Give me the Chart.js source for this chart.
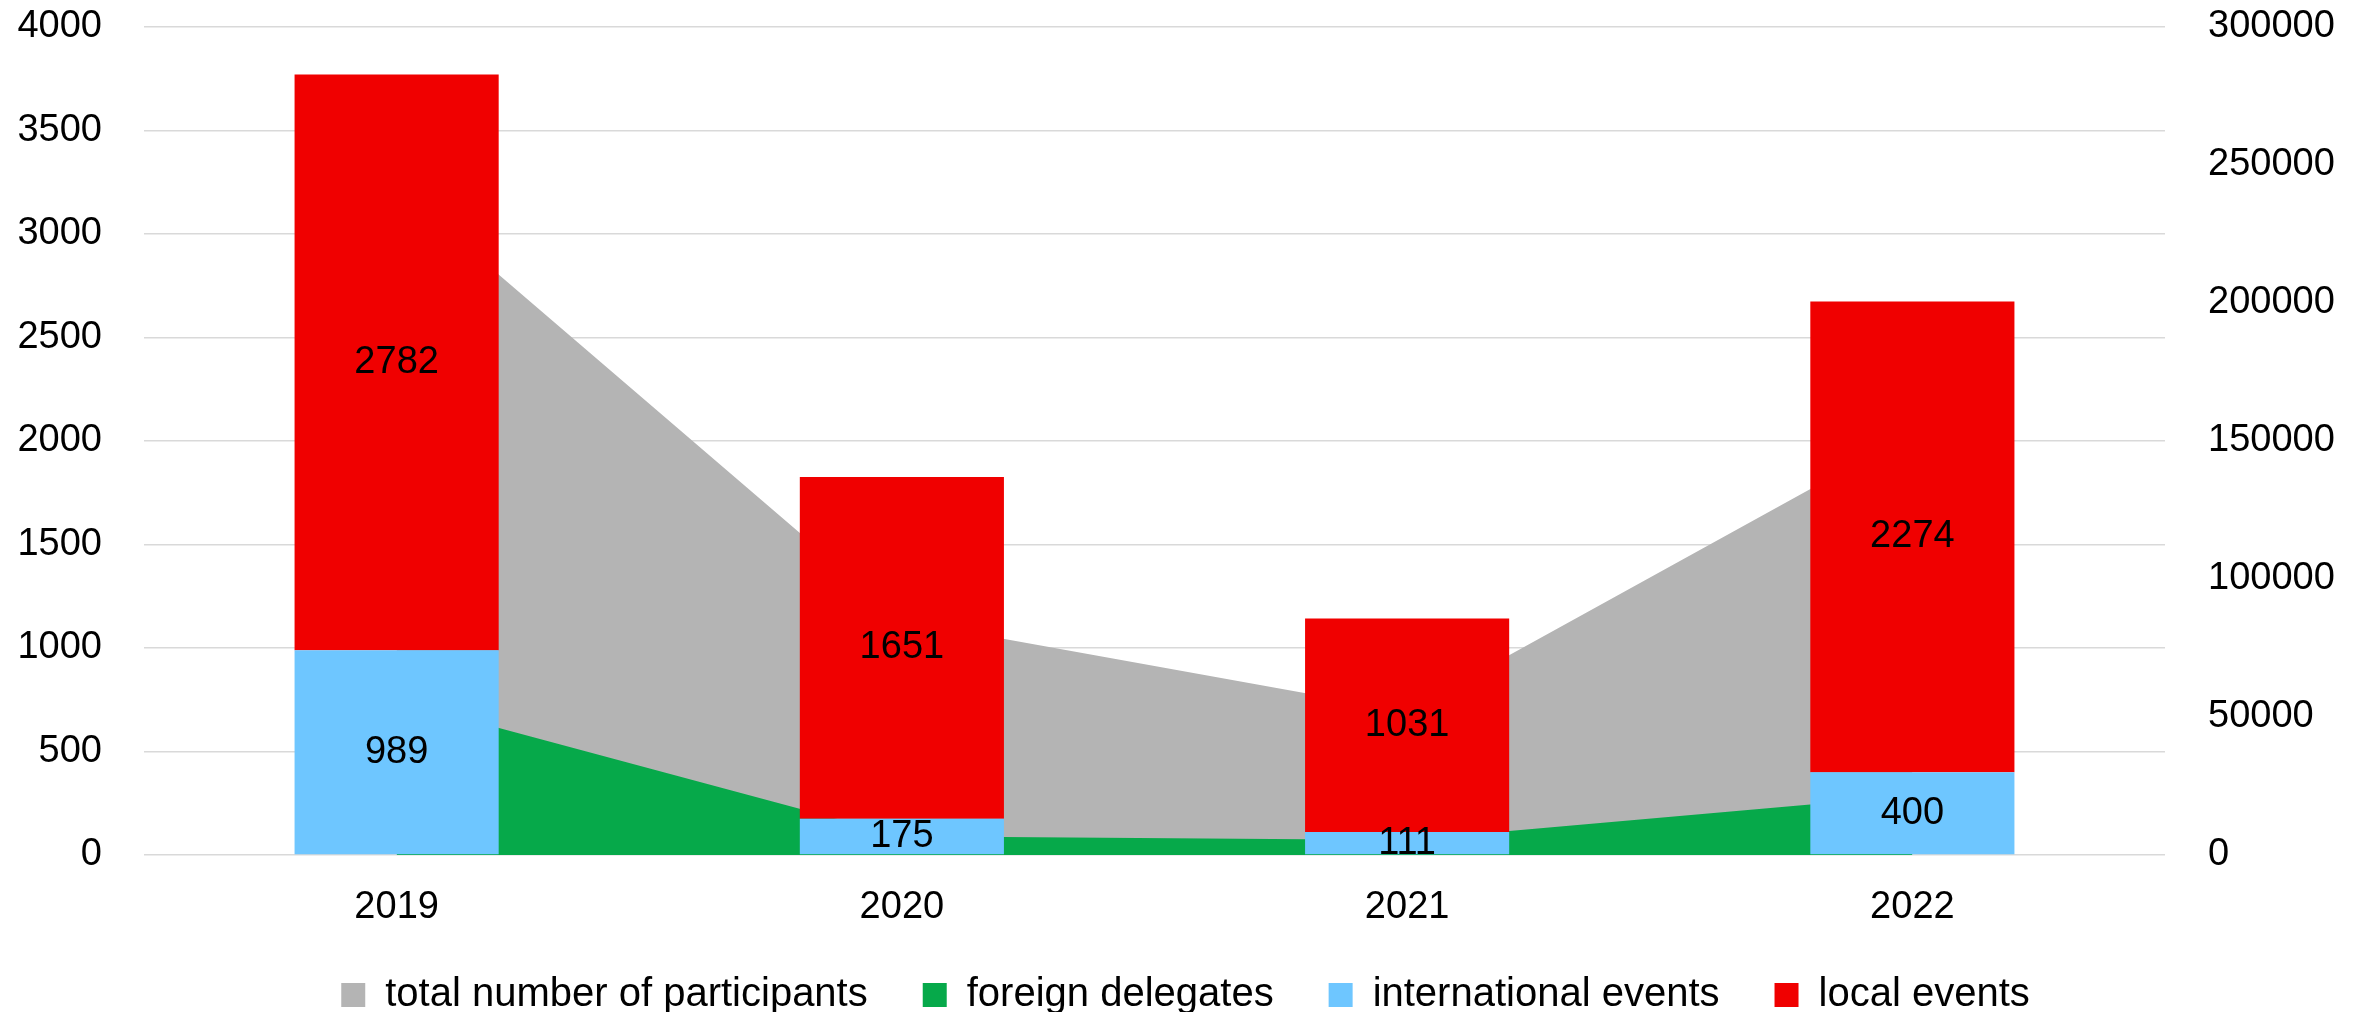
<!DOCTYPE html>
<html>
<head>
<meta charset="utf-8">
<script src="https://cdn.jsdelivr.net/npm/chart.js@4/dist/chart.umd.min.js"></script>
<style>
  html, body { margin: 0; padding: 0; background: #ffffff; }
  #wrap { width: 2371px; height: 1013px; }
</style>
</head>
<body>
<div id="wrap"><canvas id="c" width="2371" height="1013"></canvas></div>
<script>
const categories = ['2019', '2020', '2021', '2022'];
const totalParticipants = [242000, 85000, 52000, 153000];
const foreignDelegates = [56000, 6800, 5400, 21600];
const internationalEvents = [989, 175, 111, 400];
const localEvents = [2782, 1651, 1031, 2274];
const leftTicks = { min: 0, max: 4000, step: 500 };
const rightTicks = { min: 0, max: 300000, step: 50000 };

const FONT = "'Liberation Sans', Arial, sans-serif";

const barLabels = {
  id: 'barLabels',
  afterDatasetsDraw(chart) {
    const ctx = chart.ctx;
    ctx.save();
    ctx.font = '38px ' + FONT;
    ctx.fillStyle = '#000000';
    ctx.textAlign = 'center';
    ctx.textBaseline = 'middle';
    chart.data.datasets.forEach((ds, i) => {
      if (ds.type !== 'bar') return;
      const meta = chart.getDatasetMeta(i);
      meta.data.forEach((el, j) => {
        const p = el.getProps(['x', 'y', 'base'], true);
        ctx.fillText(String(ds.data[j]), p.x, (p.y + p.base) / 2);
      });
    });
    ctx.restore();
  }
};

function noVPad(scale) { scale.paddingTop = 0; scale.paddingBottom = 0; }

new Chart(document.getElementById('c'), {
  data: {
    labels: categories,
    datasets: [
      { type: 'line', label: 'total number of participants', data: totalParticipants, yAxisID: 'y1',
        fill: 'origin', backgroundColor: '#b4b4b4', borderColor: '#b4b4b4', borderWidth: 0,
        pointRadius: 0, tension: 0, order: 4 },
      { type: 'line', label: 'foreign delegates', data: foreignDelegates, yAxisID: 'y1',
        fill: 'origin', backgroundColor: '#06a94a', borderColor: '#06a94a', borderWidth: 0,
        pointRadius: 0, tension: 0, order: 3 },
      { type: 'bar', label: 'international events', data: internationalEvents, yAxisID: 'y',
        backgroundColor: '#6ec6ff', stack: 's', order: 1,
        categoryPercentage: 1, barPercentage: 0.404 },
      { type: 'bar', label: 'local events', data: localEvents, yAxisID: 'y',
        backgroundColor: '#f00000', stack: 's', order: 2,
        categoryPercentage: 1, barPercentage: 0.404 }
    ]
  },
  options: {
    responsive: false,
    animation: false,
    devicePixelRatio: 1,
    layout: { padding: { top: 27, left: 0, right: 0, bottom: 1 } },
    plugins: {
      tooltip: { enabled: false },
      legend: {
        position: 'bottom',
        maxHeight: 92,
        labels: {
          font: { family: FONT, size: 40 },
          color: '#000000',
          boxWidth: 24,
          boxHeight: 24,
          padding: 55,
          sort: (a, b) => a.datasetIndex - b.datasetIndex
        }
      }
    },
    scales: {
      x: {
        stacked: true,
        offset: true,
        afterFit(scale) { scale.height = 65; },
        grid: { display: false },
        border: { display: false },
        ticks: { font: { family: FONT, size: 38 }, color: '#000000', padding: 22 }
      },
      y: {
        position: 'left',
        stacked: true,
        min: leftTicks.min, max: leftTicks.max,
        afterFit(scale) { scale.width = 144; noVPad(scale); },
        ticks: { stepSize: leftTicks.step, font: { family: FONT, size: 38 }, color: '#000000', padding: 42,
                 callback: (v) => String(v) },
        grid: { color: '#d9d9d9', lineWidth: 1.5, drawTicks: false },
        border: { display: false }
      },
      y1: {
        position: 'right',
        stacked: false,
        min: rightTicks.min, max: rightTicks.max,
        afterFit(scale) { scale.width = 206; noVPad(scale); },
        ticks: { stepSize: rightTicks.step, font: { family: FONT, size: 38 }, color: '#000000', padding: 43,
                 callback: (v) => String(v) },
        grid: { display: false, drawTicks: false },
        border: { display: false }
      }
    }
  },
  plugins: [barLabels]
});
</script>
</body>
</html>
